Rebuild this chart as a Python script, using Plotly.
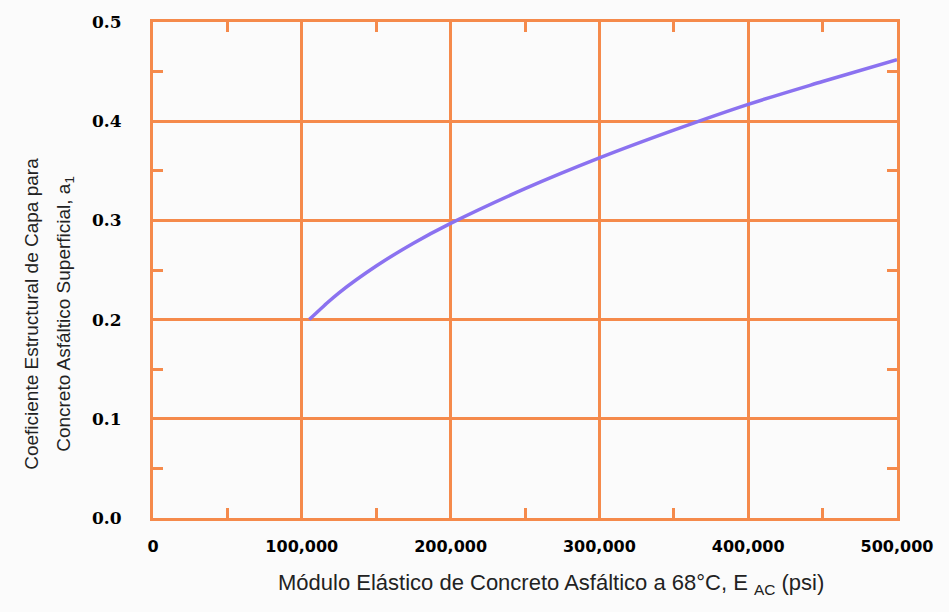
import plotly.graph_objects as go

# Data
modulus_psi = [105000, 115000, 125000, 150000, 175000, 200000, 250000, 300000, 350000, 400000, 450000, 500000]
a1_coef = [0.200, 0.214, 0.227, 0.254, 0.277, 0.297, 0.332, 0.363, 0.391, 0.417, 0.440, 0.462]

x_tickvals = [0, 100000, 200000, 300000, 400000, 500000]
x_ticktext = ["0", "100,000", "200,000", "300,000", "400,000", "500,000"]
y_tickvals = [0.0, 0.1, 0.2, 0.3, 0.4, 0.5]
y_ticktext = ["0.0", "0.1", "0.2", "0.3", "0.4", "0.5"]

ORANGE = "#f58a4b"
PURPLE = "#8b72f0"
BG = "#fbfbfb"

fig = go.Figure()
fig.add_trace(go.Scatter(
    x=modulus_psi, y=a1_coef, mode="lines",
    line=dict(color=PURPLE, width=3.5, shape="spline", smoothing=1.0),
    showlegend=False, hoverinfo="skip",
))

axis_common = dict(
    showgrid=True, gridcolor=ORANGE, gridwidth=3,
    showline=True, linecolor=ORANGE, linewidth=3, mirror="ticks",
    zeroline=False, ticks="",
)

fig.update_xaxes(
    range=[0, 500000], tickvals=x_tickvals, ticktext=x_ticktext,
    tickfont=dict(family="DejaVu Sans", size=16, color="#000000", weight="bold"),
    ticklabelstandoff=12,
    minor=dict(ticks="inside", ticklen=10, tickwidth=3, tickcolor=ORANGE,
               tick0=50000, dtick=100000, showgrid=False),
    **axis_common,
)
fig.update_yaxes(
    range=[0, 0.5], tickvals=y_tickvals, ticktext=y_ticktext,
    tickfont=dict(family="DejaVu Serif", size=17, color="#000000", weight="bold"),
    ticklabelstandoff=25,
    minor=dict(ticks="inside", ticklen=10, tickwidth=3, tickcolor=ORANGE,
               tick0=0.05, dtick=0.1, showgrid=False),
    **axis_common,
)

fig.update_layout(
    width=949, height=612,
    margin=dict(l=153, r=52, t=20, b=94),
    paper_bgcolor=BG, plot_bgcolor=BG,
    font=dict(family="Liberation Sans", color="#222222"),
)

title_font_x = dict(family="Liberation Sans", size=22, color="#222222")
title_font_y = dict(family="Liberation Sans", size=19, color="#222222")
fig.add_annotation(
    xref="paper", yref="paper", x=(551 - 153) / 744, y=(518 - 584) / 498,
    text="Módulo Elástico de Concreto Asfáltico a 68°C, E <sub>AC</sub> (psi)",
    showarrow=False, font=title_font_x, xanchor="center", yanchor="middle",
)
fig.add_annotation(
    xref="paper", yref="paper", x=(32 - 153) / 744, y=(518 - 313) / 498,
    text="Coeficiente Estructural de Capa para",
    showarrow=False, font=title_font_y, textangle=-90, xanchor="center", yanchor="middle",
)
fig.add_annotation(
    xref="paper", yref="paper", x=(65 - 153) / 744, y=(518 - 313) / 498,
    text="Concreto Asfáltico Superficial, a<sub>1</sub>",
    showarrow=False, font=title_font_y, textangle=-90, xanchor="center", yanchor="middle",
)

# remove the default page margin so the figure sits at the window's origin
fig.write_html(
    "out.html",
    config={"displayModeBar": False, "staticPlot": True},
    post_script="document.body.style.margin='0';document.body.style.overflow='hidden';",
)
